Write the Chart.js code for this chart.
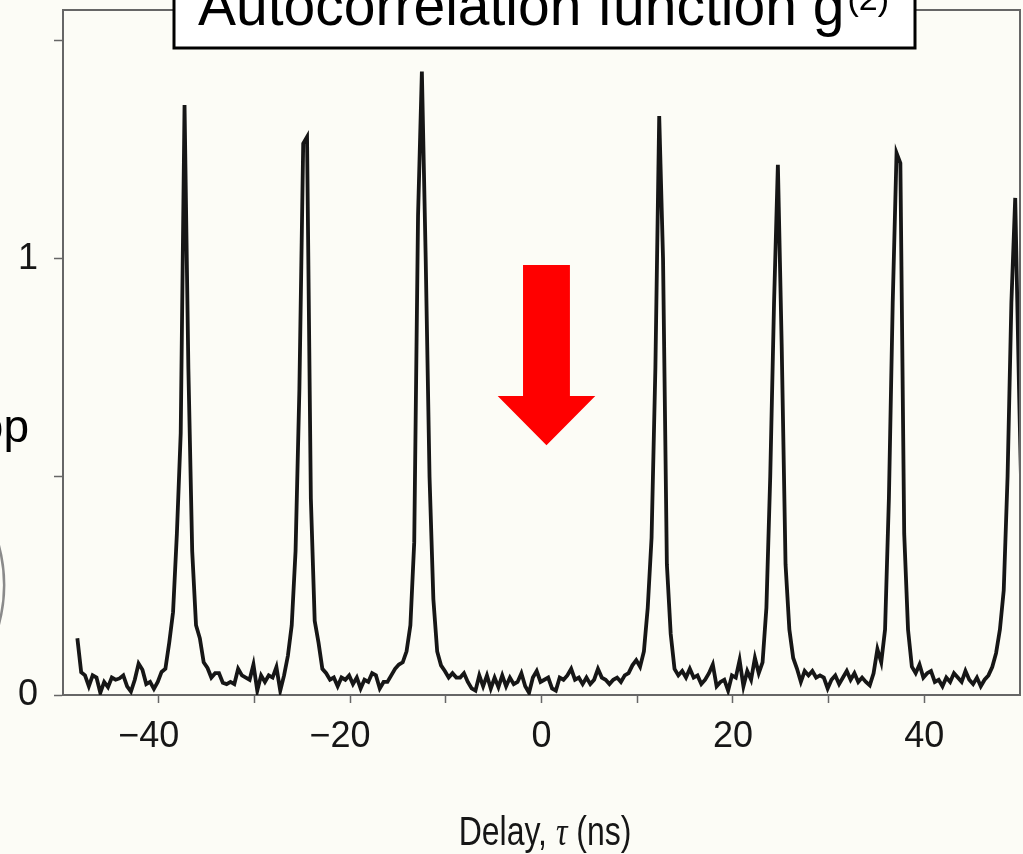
<!DOCTYPE html>
<html>
<head>
<meta charset="utf-8">
<title>Autocorrelation function g(2)</title>
<script src="https://cdn.jsdelivr.net/npm/chart.js@4/dist/chart.umd.min.js"></script>
<style>
    html, body { margin: 0; padding: 0; background: #fcfcf6; overflow: hidden; }
    canvas { display: block; }
</style>
</head>
<body>
<canvas id="g2_chart" width="1023" height="854"></canvas>
<script>
'use strict';

// coincidence histogram, time bins of 0.4 ns starting at -48.5 ns
const delayStart = -48.5;
const delayStep = 0.4;
const g2 = [
    0.13, 0.052, 0.045, 0.02, 0.045, 0.04, 0.005, 0.03, 0.018, 0.04,
    0.035, 0.038, 0.045, 0.02, 0.008, 0.035, 0.072, 0.058, 0.025, 0.03,
    0.014, 0.03, 0.053, 0.06, 0.12, 0.19, 0.37, 0.6, 1.353, 0.75,
    0.33, 0.16, 0.13, 0.075, 0.062, 0.04, 0.05, 0.05, 0.028, 0.025,
    0.03, 0.025, 0.06, 0.045, 0.04, 0.035, 0.07, 0.01, 0.045, 0.03,
    0.045, 0.04, 0.064, 0.01, 0.045, 0.09, 0.16, 0.33, 0.7, 1.265,
    1.28, 0.45, 0.17, 0.12, 0.06, 0.05, 0.035, 0.04, 0.02, 0.04,
    0.035, 0.045, 0.025, 0.04, 0.015, 0.035, 0.03, 0.05, 0.045, 0.015,
    0.03, 0.03, 0.045, 0.06, 0.07, 0.075, 0.1, 0.16, 0.35, 1.1,
    1.43, 1.0, 0.5, 0.22, 0.1, 0.068, 0.055, 0.04, 0.05, 0.04,
    0.04, 0.05, 0.03, 0.015, 0.01, 0.045, 0.02, 0.045, 0.015, 0.04,
    0.018, 0.045, 0.02, 0.04, 0.025, 0.03, 0.05, 0.02, 0.005, 0.04,
    0.055, 0.03, 0.035, 0.04, 0.015, 0.01, 0.04, 0.035, 0.045, 0.06,
    0.035, 0.04, 0.025, 0.04, 0.025, 0.035, 0.06, 0.04, 0.035, 0.025,
    0.035, 0.04, 0.03, 0.045, 0.05, 0.068, 0.08, 0.065, 0.1, 0.2,
    0.36, 0.75, 1.328, 1.0, 0.3, 0.14, 0.06, 0.045, 0.055, 0.04,
    0.06, 0.04, 0.045, 0.025, 0.035, 0.05, 0.07, 0.02, 0.03, 0.035,
    0.01, 0.045, 0.04, 0.08, 0.02, 0.055, 0.035, 0.085, 0.05, 0.075,
    0.2, 0.5, 0.9, 1.216, 0.8, 0.3, 0.15, 0.085, 0.06, 0.03,
    0.055, 0.045, 0.055, 0.04, 0.045, 0.04, 0.015, 0.035, 0.045, 0.025,
    0.04, 0.055, 0.035, 0.05, 0.03, 0.04, 0.03, 0.022, 0.05, 0.105,
    0.075, 0.15, 0.45, 0.9, 1.243, 1.22, 0.37, 0.15, 0.065, 0.05,
    0.07, 0.04, 0.05, 0.055, 0.03, 0.035, 0.02, 0.04, 0.03, 0.05,
    0.04, 0.03, 0.055, 0.035, 0.025, 0.04, 0.02, 0.035, 0.045, 0.064,
    0.096, 0.15, 0.24, 0.5, 0.9, 1.14, 0.7, 0.3
];

const xTicks = [-40, -30, -20, -10, 0, 10, 20, 30, 40];
const xLabelled = [-40, -20, 0, 20, 40];
const yTicks = [0, 0.5, 1, 1.5];
const yLabelled = [0, 1];

const chartTitle = 'Autocorrelation function g';
const chartTitleSup = '(2)';

const sans = "'Liberation Sans', Arial, Helvetica, sans-serif";
const axisGrey = '#666666';
const ink = '#161616';

(() => {
    let points = g2.map((value, i) => ({
        x: delayStart + i * delayStep,
        y: value
    }));

    // no extra room for half labels at the ends of the axes
    let noEdgePadding = (scale) => {
        scale.paddingTop = 0;
        scale.paddingBottom = 0;
        scale.paddingLeft = 0;
        scale.paddingRight = 0;
    };

    // page background, the plot is drawn over it
    const background = {
        id: 'background',
        beforeDraw(chart) {
            let ctx = chart.ctx;
            ctx.save();
            ctx.fillStyle = '#fcfcf6';
            ctx.fillRect(0, 0, chart.width, chart.height);
            ctx.restore();
        }
    };

    const decorations = {
        id: 'decorations',
        afterDraw(chart) {
            let ctx = chart.ctx;
            let area = chart.chartArea;
            let x = chart.scales.x;
            let y = chart.scales.y;

            ctx.save();

            // top and right sides of the frame
            ctx.strokeStyle = axisGrey;
            ctx.lineWidth = 2;
            ctx.beginPath();
            ctx.moveTo(area.left, area.top);
            ctx.lineTo(area.right, area.top);
            ctx.lineTo(area.right, area.bottom);
            ctx.stroke();

            // title box
            ctx.fillStyle = '#ffffff';
            ctx.fillRect(174, -10, 741, 58);
            ctx.strokeStyle = '#000000';
            ctx.lineWidth = 3;
            ctx.strokeRect(174, -10, 741, 58);

            ctx.fillStyle = '#000000';
            ctx.textBaseline = 'alphabetic';
            ctx.textAlign = 'left';
            ctx.font = `57px ${sans}`;
            let mainWidth = ctx.measureText(chartTitle).width;
            ctx.font = `34px ${sans}`;
            let supWidth = ctx.measureText(chartTitleSup).width;
            let tx = 542 - (mainWidth + supWidth) / 2;
            ctx.font = `57px ${sans}`;
            ctx.fillText(chartTitle, tx, 25);
            ctx.font = `34px ${sans}`;
            ctx.fillText(chartTitleSup, tx + mainWidth + 3, 10);

            // red arrow pointing at zero delay
            let cx = x.getPixelForValue(0.52);
            let shaft = x.getPixelForValue(2.45) - x.getPixelForValue(0);
            let head = x.getPixelForValue(5.1) - x.getPixelForValue(0);
            let top = y.getPixelForValue(0.986);
            let neck = y.getPixelForValue(0.686);
            let tip = y.getPixelForValue(0.573);
            ctx.fillStyle = '#ff0000';
            ctx.beginPath();
            ctx.moveTo(cx - shaft, top);
            ctx.lineTo(cx + shaft, top);
            ctx.lineTo(cx + shaft, neck);
            ctx.lineTo(cx + head, neck);
            ctx.lineTo(cx, tip);
            ctx.lineTo(cx - head, neck);
            ctx.lineTo(cx - shaft, neck);
            ctx.closePath();
            ctx.fill();

            // x axis title in a condensed face, tau in italic serif
            let parts = [
                ['Delay, ', `40px ${sans}`],
                ['\u03c4', `italic 40px 'Liberation Serif', 'Times New Roman', serif`],
                [' (ns)', `40px ${sans}`]
            ];
            let squeeze = 0.8;
            let total = 0;
            parts.forEach((p) => {
                ctx.font = p[1];
                total += ctx.measureText(p[0]).width;
            });
            ctx.translate(545 - total * squeeze / 2, 845);
            ctx.scale(squeeze, 1);
            let px = 0;
            ctx.fillStyle = ink;
            parts.forEach((p) => {
                ctx.font = p[1];
                ctx.fillText(p[0], px, 0);
                px += ctx.measureText(p[0]).width;
            });
            ctx.setTransform(1, 0, 0, 1, 0, 0);

            // bits of the neighbouring panel at the left edge
            ctx.fillStyle = '#000000';
            ctx.font = `46px ${sans}`;
            ctx.textAlign = 'right';
            ctx.fillText('op', 29, 442);

            ctx.strokeStyle = '#8a8a8a';
            ctx.lineWidth = 2.5;
            ctx.beginPath();
            ctx.arc(-151, 585, 155, -0.3, 0.3);
            ctx.stroke();

            ctx.restore();
        }
    };

    new Chart(document.querySelector('canvas#g2_chart'), {
        type: 'line',
        data: {
            datasets: [{
                label: 'g2',
                data: points,
                borderColor: ink,
                borderWidth: 3.8,
                borderJoinStyle: 'miter',
                pointRadius: 0,
                tension: 0,
                fill: false
            }]
        },
        options: {
            responsive: false,
            animation: false,
            devicePixelRatio: 1,
            layout: {
                padding: { top: 10, right: 3, left: 0, bottom: 0 }
            },
            plugins: {
                legend: { display: false },
                tooltip: { enabled: false }
            },
            scales: {
                x: {
                    type: 'linear',
                    min: -50,
                    max: 50,
                    afterBuildTicks: (scale) => {
                        scale.ticks = xTicks.map((v) => ({ value: v }));
                    },
                    afterFit: (scale) => {
                        scale.height = 159;
                        noEdgePadding(scale);
                    },
                    border: { display: true, color: axisGrey, width: 2 },
                    grid: {
                        drawOnChartArea: false,
                        drawTicks: true,
                        tickLength: 8,
                        tickColor: axisGrey,
                        tickWidth: 1.5
                    },
                    ticks: {
                        autoSkip: false,
                        maxRotation: 0,
                        padding: 12,
                        color: ink,
                        font: { family: sans, size: 36 },
                        callback: (value) => {
                            if (!xLabelled.includes(value)) {
                                return '';
                            }
                            // keep the digits centred on the tick
                            return value < 0 ? '\u2212' + Math.abs(value) + '\u2007' : String(value);
                        }
                    }
                },
                y: {
                    type: 'linear',
                    min: 0,
                    max: 1.571,
                    afterBuildTicks: (scale) => {
                        scale.ticks = yTicks.map((v) => ({ value: v }));
                    },
                    afterFit: (scale) => {
                        scale.width = 63;
                        noEdgePadding(scale);
                    },
                    border: { display: true, color: axisGrey, width: 2 },
                    grid: {
                        drawOnChartArea: false,
                        drawTicks: true,
                        tickLength: 9,
                        tickColor: axisGrey,
                        tickWidth: 1.5
                    },
                    ticks: {
                        padding: 16,
                        color: ink,
                        font: { family: sans, size: 36 },
                        callback: (value) => yLabelled.includes(value) ? String(value) : ''
                    }
                }
            }
        },
        plugins: [background, decorations]
    });
})();
</script>
</body>
</html>
